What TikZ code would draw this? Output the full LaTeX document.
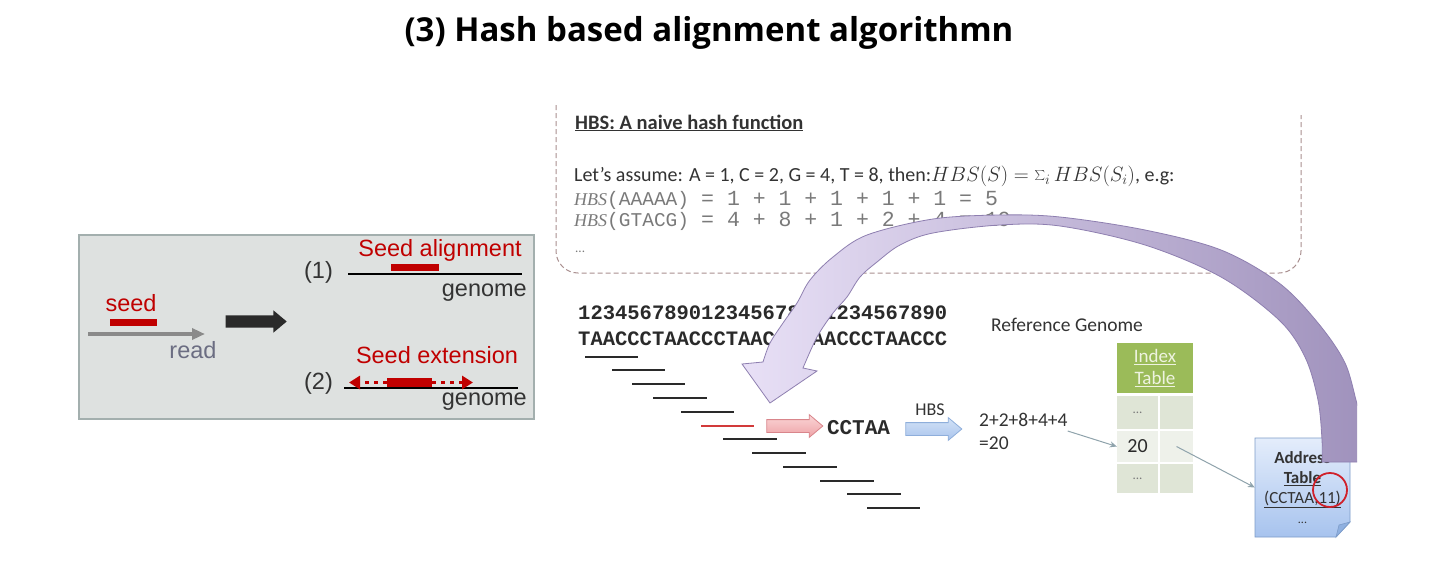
\documentclass[tikz,border=0pt]{standalone}
\usepackage{fontspec}
\setmainfont{Carlito}
\newfontfamily\arialf{Liberation Sans}
\newfontfamily\titlef{Open Sans}
\newfontfamily\monof{Liberation Mono}
\newfontfamily\serff{Liberation Serif}
\usetikzlibrary{shapes.arrows,arrows.meta}
\newcommand\setpx[1]{\fontsize{#1}{#1}\selectfont}
\newcommand\setpxb[2]{\fontsize{#1}{#2}\selectfont}

\definecolor{boxfill}{HTML}{DEE1E0}
\definecolor{boxline}{HTML}{A3AFAE}
\definecolor{seedred}{HTML}{C00000}
\definecolor{txtgray}{HTML}{333333}
\definecolor{readgray}{HTML}{8A8A8A}
\definecolor{readtxt}{HTML}{6B6D82}
\definecolor{dashc}{HTML}{A98F8F}
\definecolor{monogray}{HTML}{7A7A7A}
\definecolor{lavA}{HTML}{E8E0F6}
\definecolor{lavB}{HTML}{C4B3E5}
\definecolor{lavC}{HTML}{9E90BB}
\definecolor{lavLine}{HTML}{8E7FB0}
\definecolor{pinkA}{HTML}{FAD6D7}
\definecolor{pinkB}{HTML}{EEA2A6}
\definecolor{pinkLine}{HTML}{D9858B}
\definecolor{blueA}{HTML}{D3E2F7}
\definecolor{blueB}{HTML}{A9C4EC}
\definecolor{blueLine}{HTML}{8EAEDB}
\definecolor{idxgreen}{HTML}{9BBB59}
\definecolor{idxtext}{HTML}{EEF3E0}
\definecolor{rowA}{HTML}{DFE5D6}
\definecolor{rowB}{HTML}{EEF1EA}
\definecolor{addrA}{HTML}{E4EDFB}
\definecolor{addrB}{HTML}{A7C3EE}
\definecolor{addrFold}{HTML}{8FB0E0}
\definecolor{addrLine}{HTML}{7D9CC9}
\definecolor{thinarr}{HTML}{8FA3AC}
\definecolor{circred}{HTML}{D0202A}
\definecolor{redread}{HTML}{D23A3A}
\definecolor{darktxt}{HTML}{2A2A2A}

\tikzset{
  titletxt/.style={font=\titlef\bfseries\setpx{33}, text=black, inner sep=0},
  leftbox/.style={draw=boxline, line width=2pt, fill=boxfill, inner sep=0, minimum width=455pt, minimum height=184pt},
  redlbl/.style={text=seedred, font=\arialf\setpx{23.5}, inner sep=0},
  graylbl/.style={text=txtgray, font=\arialf\setpx{23.5}, inner sep=0},
  redbar/.style={fill=seedred, inner sep=0},
  genline/.style={line width=2pt, draw=black},
  blockarrow/.style={shape=single arrow, single arrow head extend=5pt, inner xsep=0pt, inner ysep=6pt, single arrow tip angle=80, minimum height=#1},
  reddots/.style={draw=seedred, line width=3.5pt, dash pattern=on 4pt off 5pt, -{Triangle[length=11pt,width=13pt]}},
  readarrow/.style={draw=readgray, line width=4pt, -{Triangle[length=13pt,width=11pt]}},
  hbsbox/.style={draw=dashc, line width=1pt, dash pattern=on 5pt off 3pt, rounded corners=22pt},
  hbshead/.style={font=\bfseries\setpx{20.5}, text=txtgray, inner sep=0},
  body/.style={font=\setpx{20}, text=txtgray, inner sep=0},
  monotxt/.style={font=\monof\setpx{21.5}, text=monogray, inner sep=0},
  seqtxt/.style={font=\monof\bfseries\setpx{20.5}, text=darktxt, inner sep=0},
  readln/.style={line width=2.5pt, draw=darktxt},
  calib/.style={font=\setpx{19.5}, text=txtgray, inner sep=0},
  cell/.style={inner sep=0, minimum width=#1},
  thinline/.style={draw=thinarr, line width=1pt, -{Stealth[length=7pt,width=6pt]}},
  bigarr/.style={left color=lavA, middle color=lavB, right color=lavC, draw=lavLine, line width=0.8pt}
}

\begin{document}
\begin{tikzpicture}[x=1pt,y=-1pt]
\useasboundingbox[fill=white] (0,0) rectangle (1440,562);

% title
\node[titletxt] (title) at (709,33) {(3) Hash based alignment algorithmn};

% ---------- left panel ----------
\node[leftbox] (lbox) at (306,326.5) {};
\node[redlbl] (seedlbl) at (131,303) {seed};
\node[redbar, minimum width=47pt, minimum height=7pt] (seedbar) at (133.5,322.5) {};
\coordinate (readL) at (88,334);
\coordinate (readR) at (205,334);
\draw[readarrow] (readL) -- (readR);
\node[font=\arialf\setpx{23.5}, text=readtxt, inner sep=0] (readlbl) at (193,350) {read};
\node[blockarrow=61pt, fill=darktxt] (goarrow) at (252.5,321.5) {};

\node[graylbl] (one) at (318.5,272) {(1)};
\coordinate (g1L) at (348,274);
\coordinate (g1R) at (522,274);
\draw[genline] (g1L) -- (g1R);
\node[redbar, minimum width=48pt, minimum height=7pt] (alignbar) at (415,267.5) {};
\node[redlbl] (seedalign) at (440,250) {Seed alignment};
\node[graylbl, anchor=east] (genome1) at (527,293) {genome};

\node[redlbl] (seedext) at (437,355) {Seed extension};
\node[graylbl] (two) at (318.5,383) {(2)};
\coordinate (g2L) at (344,388);
\coordinate (g2R) at (518,388);
\draw[genline] (g2L) -- (g2R);
\node[redbar, minimum width=45pt, minimum height=9pt] (extbar) at (409.5,382.5) {};
\coordinate (extL) at (349,382.5);
\coordinate (extR) at (473,382.5);
\draw[reddots] (extbar.west) -- (extL);
\draw[reddots] (extbar.east) -- (extR);
\node[graylbl, anchor=east] (genome2) at (527,402) {genome};

% ---------- right panel ----------
\draw[hbsbox] (556,105) -- (556,273) -- (1301,273) -- (1301,115);
\node[hbshead, anchor=base west] (hbstitle) at (575,129) {\underline{HBS: A naive hash function}};
\node[body, anchor=base west] (assume) at (574,181) {Let’s assume: A = 1, C = 2, G = 4, T = 8, then:$HBS(S) = \sum_i HBS(S_i)$, e.g:};
\node[monotxt, anchor=base west, font=\monof\setpx{19.5}] (ex1a) at (574,205) {{\serff\itshape\setpx{18}HBS}(AAAAA)};
\node[monotxt, anchor=base west] (ex1b) at (701,205) {= 1 + 1 + 1 + 1 + 1 = 5};
\node[monotxt, anchor=base west, font=\monof\setpx{19.5}] (ex2a) at (574,226) {{\serff\itshape\setpx{18}HBS}(GTACG)};
\node[monotxt, anchor=base west] (ex2b) at (701,226) {= 4 + 8 + 1 + 2 + 4 = 19};
\node[font=\setpx{13}, text=monogray, inner sep=0, anchor=base west] (dots0) at (575,252) {...};

\node[seqtxt, anchor=base west] (nums) at (578,319) {123456789012345678901234567890};
\node[seqtxt, anchor=base west] (seq) at (578,345) {TAACCCTAACCCTAACCCTAACCCTAACCC};
\node[calib] (refg) at (1067,325) {Reference Genome};

\foreach \xa/\xb/\yy in {585/638/357, 612/665/370, 632/685/384, 653/707/398, 681/734/412, 723/777/439, 752/806/453, 783/837/467, 820/874/481, 847/901/494, 867/920/508}
  \draw[readln] (\xa,\yy) -- (\xb,\yy);
\draw[readln, draw=redread] (701,426) -- (754,426);

\node[blockarrow=56pt, top color=pinkA, bottom color=pinkB, draw=pinkLine, line width=0.8pt] (pinkarr) at (791,426) {};
\node[font=\monof\bfseries\setpx{21}, text=darktxt, inner sep=0] (cctaa) at (858.5,428) {CCTAA};
\node[blockarrow=56pt, top color=blueA, bottom color=blueB, draw=blueLine, line width=0.8pt] (bluearr) at (930,429) {};
\node[font=\setpx{18}, text=txtgray, inner sep=0] (hbslbl) at (930,410) {HBS};
\node[text=txtgray, inner sep=0, align=left, anchor=west, font=\setpxb{19.5}{23}] (sum) at (979,431) {2+2+8+4+4\\=20};

% index table
\node[fill=idxgreen, inner sep=0, minimum width=76pt, minimum height=50pt, align=center, text=idxtext, font=\setpxb{19}{22}] (idxhead) at (1155,368) {\underline{Index}\\\underline{Table}};
\node[cell=41pt, minimum height=33pt, fill=rowA, font=\setpx{13}, text=monogray] (r1a) at (1137.5,412.5) {...};
\node[cell=33pt, minimum height=33pt, fill=rowA] (r1b) at (1176.5,412.5) {};
\node[cell=41pt, minimum height=31pt, fill=rowB, font=\setpx{20}, text=darktxt] (r2a) at (1137.5,446.5) {20};
\node[cell=33pt, minimum height=31pt, fill=rowB] (r2b) at (1176.5,446.5) {};
\node[cell=41pt, minimum height=29pt, fill=rowA, font=\setpx{13}, text=monogray] (r3a) at (1137.5,478.5) {...};
\node[cell=33pt, minimum height=29pt, fill=rowA] (r3b) at (1176.5,478.5) {};

% address table
\path[top color=addrA, bottom color=addrB, draw=addrLine, line width=0.8pt]
  (1255,438) -- (1350,438) -- (1350,522) -- (1336,537) -- (1255,537) -- cycle;
\path[fill=addrFold, draw=addrLine, line width=0.6pt] (1350,522) -- (1339,525) -- (1336,537) -- cycle;
\node[inner sep=0, minimum width=95pt, minimum height=99pt, align=center, font=\setpxb{17}{20}, text=txtgray] (addr) at (1302.5,487.5)
  {\textbf{Address}\\\textbf{\underline{Table}}\\\underline{(CCTAA,11)}\\{\setpx{12}...}};
\node[circle, draw=circred, line width=1.8pt, minimum size=34pt, inner sep=0] (hit) at (1330,490) {};

\draw[thinline] (sum.east) -- (r2a.west);
\draw[thinline] (r2b.center) -- (addr.west);

% big curved arrow
\begin{scope}
\clip (540,90) rectangle (1357,560);
\path[bigarr] (1378,462)
 -- plot[smooth, tension=0.55] coordinates {(1368,430) (1358,407) (1345,363) (1318,323) (1279,283) (1221,250) (1145,230) (1060,217) (1000,215) (933,219) (867,235) (833,257) (810,280) (797,303) (783,323) (770,343) (763,362)}
 -- (742,364) -- (770,403) -- (817,371)
 -- plot[smooth, tension=0.55] coordinates {(803,368) (817,337) (833,313) (847,297) (860,277) (877,262) (900,245) (933,233) (1000,225) (1060,226) (1145,245) (1221,277) (1279,320) (1305,357) (1318,400) (1322,440) (1322,462)}
 -- cycle;
\end{scope}
\end{tikzpicture}
\end{document}
